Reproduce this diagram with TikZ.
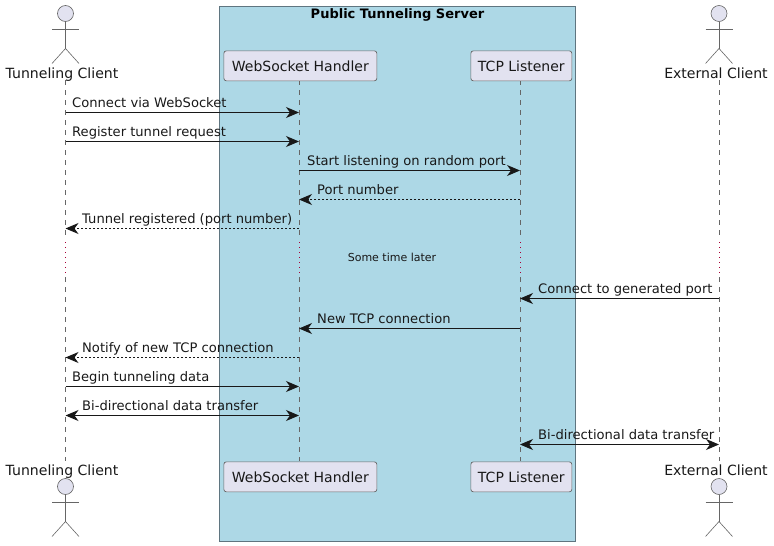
\documentclass[tikz,border=0pt]{standalone}
\usepackage{fontspec}
\setmainfont{DejaVu Sans}
\usetikzlibrary{arrows.meta}
\definecolor{partfill}{HTML}{E2E2F0}
\definecolor{boxfill}{HTML}{ADD8E6}
\definecolor{linecol}{HTML}{181818}
\definecolor{lifecol}{HTML}{666666}
\definecolor{borderc}{HTML}{5F7580}
\definecolor{dotcol}{HTML}{A80036}
\tikzset{
  x=1pt,y=-1pt,
  part/.style={draw=lifecol,fill=partfill,rounded corners=2.5pt,line width=.7pt,minimum height=30pt,inner sep=0pt,font=\fontsize{14}{16}\selectfont,text=linecol},
  actorlabel/.style={inner sep=0pt,font=\fontsize{14.05}{16}\selectfont,text=linecol,anchor=base},
  msg/.style={line width=1pt,draw=linecol,-{Stealth[length=13pt,width=11pt,inset=4pt]}},
  msgboth/.style={line width=1pt,draw=linecol,{Stealth[length=13pt,width=11pt,inset=4pt]}-{Stealth[length=13pt,width=11pt,inset=4pt]}},
  ret/.style={msg,dash pattern=on 2pt off 2pt},
  lbl/.style={inner sep=0pt,anchor=base west,font=\fontsize{13.1}{15}\selectfont,text=linecol},
  life/.style={draw=lifecol,line width=.6pt,dash pattern=on 5pt off 5pt},
  gap/.style={draw=dotcol,line width=1pt,dash pattern=on 1pt off 4pt},
  actorline/.style={draw=lifecol,line width=.6pt},
  actorhead/.style={draw=lifecol,fill=partfill,line width=.6pt},
}
\newcommand{\stickman}[2]{%
  \draw[actorhead] (#1,#2) circle (8);
  \draw[actorline] (#1,#2+8) -- (#1,#2+35);
  \draw[actorline] (#1-13.5,#2+15.5) -- (#1+13.5,#2+15.5);
  \draw[actorline] (#1-13.5,#2+50) -- (#1,#2+35) -- (#1+13.5,#2+50);
}
\begin{document}
\begin{tikzpicture}
\useasboundingbox (0,0) rectangle (774,546);
\node[draw=borderc,fill=boxfill,line width=.7pt,minimum width=356pt,minimum height=535pt,inner sep=0pt,outer sep=0pt,anchor=north west] (server) at (219,6.5) {};
\node[inner sep=0pt,anchor=base,font=\fontsize{13}{15}\selectfont\bfseries] (title) at (397.5,18) {Public Tunneling Server};
% lifeline ends
\foreach \n/\x in {t/65.5,w/299,l/520,e/719}{
  \coordinate (\n top) at (\x,80);
  \coordinate (\n a) at (\x,237);
  \coordinate (\n c) at (\x,242);
  \coordinate (\n d) at (\x,273);
  \coordinate (\n b) at (\x,277);
  \coordinate (\n bot) at (\x,461);
  \foreach \i/\y in {1/112.5,2/141.5,3/170.5,4/199.5,5/228.5,6/298.5,7/328.5,8/357.5,9/386.5,10/415.5,11/444.5}{
    \coordinate (\n\i) at (\x,\y);
  }
}
\foreach \n in {t,w,l,e}{
  \draw[life] (\n top) -- (\n a);
  \draw[gap] (\n c) -- (\n d);
  \draw[life] (\n b) -- (\n bot);
}
% participants
\node[part,minimum width=153pt,anchor=north west] (wstop) at (223.5,50.5) {WebSocket Handler};
\node[part,minimum width=101pt,anchor=north west] (tcptop) at (470.5,50.5) {TCP Listener};
\node[part,minimum width=153pt,anchor=north west] (wsbot) at (223.5,461.5) {WebSocket Handler};
\node[part,minimum width=101pt,anchor=north west] (tcpbot) at (470.5,461.5) {TCP Listener};
% actors
\stickman{65.5}{13.5}
\stickman{719}{13.5}
\stickman{65.5}{486.5}
\stickman{719}{486.5}
\node[actorlabel] (tctop) at (62,78) {Tunneling Client};
\node[actorlabel] (ectop) at (716,78) {External Client};
\node[actorlabel] (tcbot) at (62,475) {Tunneling Client};
\node[actorlabel] (ecbot) at (716,475) {External Client};
% messages
\draw[msg] (t1) -- (w1);
\node[lbl] (m1) at (72,107) {Connect via WebSocket};
\draw[msg] (t2) -- (w2);
\node[lbl] (m2) at (72,136) {Register tunnel request};
\draw[msg] (w3) -- (l3);
\node[lbl] (m3) at (307,165) {Start listening on random port};
\draw[ret] (l4) -- (w4);
\node[lbl] (m4) at (317,194) {Port number};
\draw[ret] (w5) -- (t5);
\node[lbl] (m5) at (82,223) {Tunnel registered (port number)};
\node[inner sep=0pt,anchor=base,font=\fontsize{11}{13}\selectfont,text=linecol] (delay) at (392,261) {Some time later};
\draw[msg] (e6) -- (l6);
\node[lbl] (m6) at (538,293) {Connect to generated port};
\draw[msg] (l7) -- (w7);
\node[lbl] (m7) at (317,323) {New TCP connection};
\draw[ret] (w8) -- (t8);
\node[lbl] (m8) at (82,352) {Notify of new TCP connection};
\draw[msg] (t9) -- (w9);
\node[lbl] (m9) at (72,381) {Begin tunneling data};
\draw[msgboth] (t10) -- (w10);
\node[lbl] (m10) at (82,410) {Bi-directional data transfer};
\draw[msgboth] (l11) -- (e11);
\node[lbl] (m11) at (538,439) {Bi-directional data transfer};
\end{tikzpicture}
\end{document}
